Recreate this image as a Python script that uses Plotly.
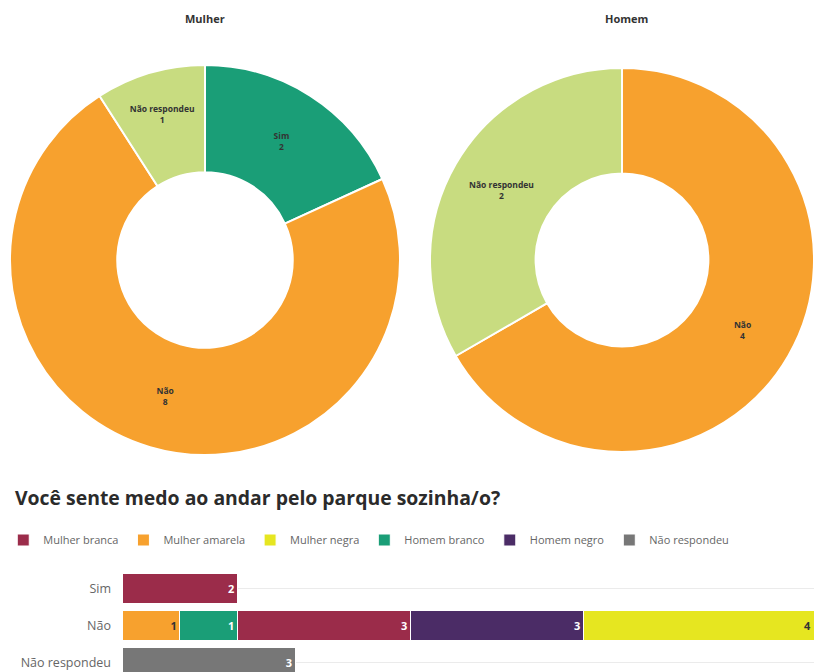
import plotly.graph_objects as go

# Pie data
mulher_labels = ["Sim", "Não", "Não respondeu"]
mulher_values = [2, 8, 1]
homem_labels = ["Não", "Não respondeu"]
homem_values = [4, 2]
pie_colors = {"Sim": "#1a9e77", "Não": "#f7a12e", "Não respondeu": "#c8dc80"}

# Bar data
categories = ["Sim", "Não", "Não respondeu"]
series = [
    ("Mulher amarela", [0, 1, 0], "#f7a12e", "#333333", 2),
    ("Homem branco", [0, 1, 0], "#1a9e77", "#ffffff", 4),
    ("Mulher branca", [2, 3, 0], "#9b2c4a", "#ffffff", 1),
    ("Homem negro", [0, 3, 0], "#4b2c66", "#ffffff", 5),
    ("Mulher negra", [0, 4, 0], "#e6e620", "#333333", 3),
    ("Não respondeu", [0, 0, 3], "#777777", "#ffffff", 6),
]

FONT = "Open Sans"
W, H = 814, 672

def px_x(p):
    return p / W

def px_y(p):
    return 1 - p / H

fig = go.Figure()

fig.add_trace(go.Pie(
    labels=mulher_labels, values=mulher_values, sort=False, direction="clockwise",
    rotation=0, hole=0.45,
    marker=dict(colors=[pie_colors[l] for l in mulher_labels], line=dict(color="white", width=2)),
    textinfo="label+value", textposition="inside", insidetextorientation="horizontal",
    textfont=dict(family=FONT, size=8.5, color="#333333", weight="bold"),
    domain=dict(x=[px_x(10), px_x(400)], y=[px_y(455), px_y(65)]),
    showlegend=False, hoverinfo="label+value",
))
fig.add_trace(go.Pie(
    labels=homem_labels, values=homem_values, sort=False, direction="clockwise",
    rotation=0, hole=0.45,
    marker=dict(colors=[pie_colors[l] for l in homem_labels], line=dict(color="white", width=2)),
    textinfo="label+value", textposition="inside", insidetextorientation="horizontal",
    textfont=dict(family=FONT, size=8.5, color="#333333", weight="bold"),
    domain=dict(x=[px_x(430), 1], y=[px_y(455), px_y(65)]),
    showlegend=False, hoverinfo="label+value",
))

for name, vals, color, tcol, rank in series:
    texts = [str(v) if v else "" for v in vals]
    fig.add_trace(go.Bar(
        name=name, y=categories, x=vals, orientation="h",
        marker=dict(color=color, line=dict(color="white", width=1)),
        text=texts, textposition="inside", insidetextanchor="end",
        textfont=dict(family=FONT, size=11, color=tcol, weight="bold"),
        legendrank=rank, xaxis="x", yaxis="y", width=0.8,
    ))

fig.update_layout(
    width=W, height=H,
    margin=dict(l=0, r=0, t=0, b=0),
    paper_bgcolor="white", plot_bgcolor="white",
    font=dict(family=FONT, color="#555555"),
    barmode="stack",
    xaxis=dict(domain=[px_x(122), 1], range=[0, 12], showgrid=False, zeroline=False,
               showticklabels=False, showline=False, fixedrange=True),
    yaxis=dict(domain=[0, px_y(570)], range=[2.257, -0.5], showgrid=True,
               gridcolor="#ebebeb", gridwidth=1, zeroline=False, showline=False,
               ticks="", ticklabelstandoff=10, automargin=False,
               tickfont=dict(family=FONT, size=12.5, color="#666666")),
    legend=dict(orientation="h", x=0.004, y=px_y(540), yanchor="middle", xanchor="left",
                font=dict(family=FONT, size=11, color="#666666"),
                traceorder="normal", itemwidth=30,
                bgcolor="rgba(0,0,0,0)", itemclick=False),
    annotations=[
        dict(text="<b>Mulher</b>", x=px_x(205), y=px_y(18), xref="paper", yref="paper",
             xanchor="center", yanchor="middle",
             showarrow=False, font=dict(family=FONT, size=11, color="#333333")),
        dict(text="<b>Homem</b>", x=px_x(626), y=px_y(18), xref="paper", yref="paper",
             xanchor="center", yanchor="middle",
             showarrow=False, font=dict(family=FONT, size=11, color="#333333")),
        dict(text="<b>Você sente medo ao andar pelo parque sozinha/o?</b>", x=px_x(13),
             y=px_y(497), xref="paper", yref="paper", xanchor="left", yanchor="middle",
             showarrow=False, font=dict(family=FONT, size=19.4, color="#2b2b2b")),
    ],
)

fig.write_html("out.html")
